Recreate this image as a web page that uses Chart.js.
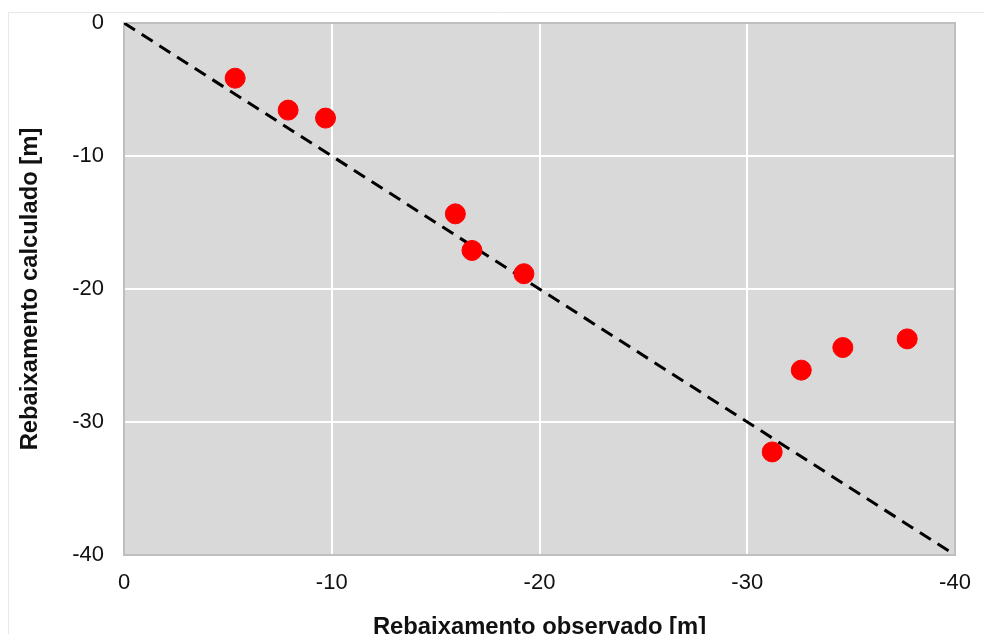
<!DOCTYPE html>
<html>
<head>
<meta charset="utf-8">
<script src="https://cdn.jsdelivr.net/npm/chart.js@4"></script>
<style>
  html, body { margin: 0; padding: 0; background: #fff; }
  #wrap { width: 984px; height: 634px; position: relative; }
</style>
</head>
<body>
<div id="wrap"><canvas id="chart" width="984" height="634"></canvas></div>
<script>
// observed vs calculated drawdown (m)
const observado = [-5.35, -7.9, -9.7, -15.95, -16.75, -19.25, -31.2, -32.6, -34.6, -37.7];
const calculado = [-4.15, -6.55, -7.15, -14.35, -17.1, -18.85, -32.25, -26.1, -24.4, -23.75];
const linha1para1 = [0, -40];
const xTicks = [0, -10, -20, -30, -40];
const yTicks = [0, -10, -20, -30, -40];

const FONT = "'Liberation Sans', Arial, sans-serif";

// grey plot background + outer frame
const plotBg = {
  id: "plotBg",
  beforeDraw(chart) {
    const { ctx, chartArea: a } = chart;
    ctx.save();
    ctx.strokeStyle = "#e8e8e8";
    ctx.lineWidth = 1;
    ctx.beginPath();
    ctx.moveTo(8.5, 634);
    ctx.lineTo(8.5, 12.5);
    ctx.lineTo(984, 12.5);
    ctx.stroke();
    ctx.fillStyle = "#d9d9d9";
    ctx.fillRect(a.left, a.top, a.right - a.left, a.bottom - a.top);
    ctx.restore();
  },
  beforeDatasetsDraw(chart) {
    const { ctx, chartArea: a } = chart;
    ctx.save();
    ctx.strokeStyle = "#bfbfbf";
    ctx.lineWidth = 2;
    ctx.strokeRect(a.left, a.top, a.right - a.left, a.bottom - a.top);
    ctx.restore();
  },
};

const ctx = document.getElementById("chart").getContext("2d");
new Chart(ctx, {
  type: "scatter",
  data: {
    datasets: [
      {
        label: "1:1",
        type: "line",
        data: linha1para1.map((v) => ({ x: v, y: v })),
        borderColor: "#000",
        borderWidth: 3,
        borderDash: [13, 8],
        pointRadius: 0,
        fill: false,
        order: 2,
      },
      {
        label: "Pontos",
        data: observado.map((x, i) => ({ x, y: calculado[i] })),
        backgroundColor: "#ff0000",
        borderColor: "#ff0000",
        pointRadius: 10,
        order: 1,
      },
    ],
  },
  options: {
    responsive: false,
    animation: false,
    layout: { padding: { top: 23, right: 29, left: 0, bottom: 0 } },
    plugins: { legend: { display: false }, tooltip: { enabled: false } },
    scales: {
      x: {
        type: "linear",
        min: -40,
        max: 0,
        reverse: true,
        afterBuildTicks: (s) => { s.ticks = xTicks.map((v) => ({ value: v })); },
        afterFit: (s) => {
          s.height = 79;
          s.paddingLeft = 0;
          s.paddingRight = 0;
        },
        grid: { color: "#ffffff", lineWidth: 2, drawTicks: false },
        border: { display: false },
        ticks: { padding: 15, color: "#111", font: { family: FONT, size: 22 } },
        title: {
          display: true,
          text: "Rebaixamento observado [m]",
          color: "#111",
          padding: { top: 0, bottom: -8 },
          font: { family: FONT, size: 23.8, weight: "bold" },
        },
      },
      y: {
        type: "linear",
        min: -40,
        max: 0,
        afterBuildTicks: (s) => { s.ticks = yTicks.map((v) => ({ value: v })); },
        afterFit: (s) => {
          s.width = 124;
          s.paddingTop = 0;
          s.paddingBottom = 0;
        },
        grid: { color: "#ffffff", lineWidth: 2, drawTicks: false },
        border: { display: false },
        ticks: { padding: 20, color: "#111", font: { family: FONT, size: 22 } },
        title: {
          display: true,
          text: "Rebaixamento calculado [m]",
          color: "#111",
          padding: { top: 16, bottom: 0 },
          font: { family: FONT, size: 23.8, weight: "bold" },
        },
      },
    },
  },
  plugins: [plotBg],
});
</script>
</body>
</html>
